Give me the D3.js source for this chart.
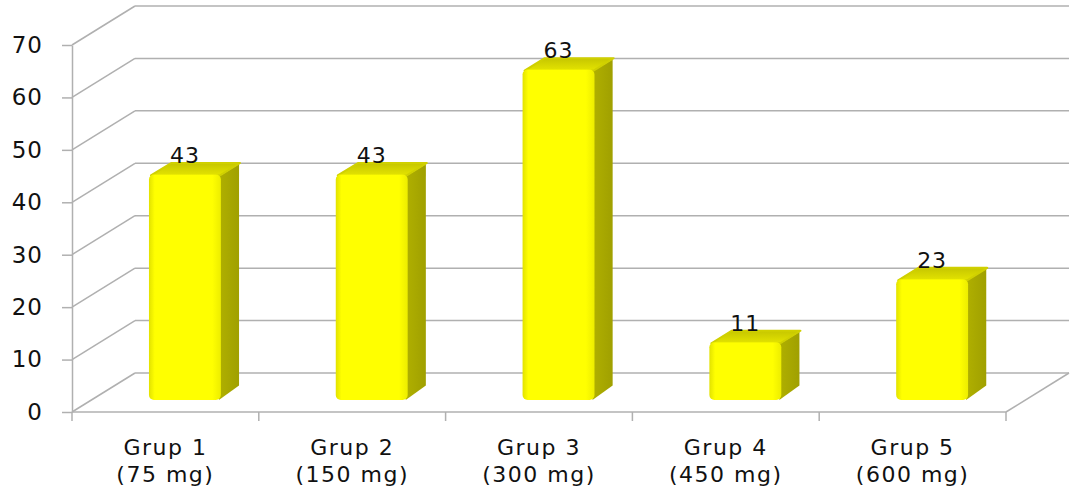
<!DOCTYPE html>
<html>
<head>
<meta charset="utf-8">
<script src="https://cdn.jsdelivr.net/npm/d3@7"></script>
<style>
  html, body { margin: 0; padding: 0; background: #fff; }
  text { font-family: "DejaVu Sans", Verdana, sans-serif; fill: #111; }
</style>
</head>
<body>
<div id="chart"></div>
<script>
// Chart data
const groupNames = ['Grup 1', 'Grup 2', 'Grup 3', 'Grup 4', 'Grup 5'];
const doseLabels = ['(75 mg)', '(150 mg)', '(300 mg)', '(450 mg)', '(600 mg)'];
const values = [43, 43, 63, 11, 23];
const yTicks = [0, 10, 20, 30, 40, 50, 60, 70];

//////////////////////////////////////////////////////////////////////
// Layout
//////////////////////////////////////////////////////////////////////
const W = 1072, H = 503;
const plot = {left: 72, right: 1006, top: 45, bottom: 412};
const depth = {dx: 63, dy: -39};        // oblique offset of the back wall
const barDepth = {front: 0.31, back: 0.63};  // bar position within the depth
const gridColor = '#b0b0b0';

const svg = d3.select('#chart')
    .append('svg')
    .attr('width', W)
    .attr('height', H);

const x = d3.scaleBand()
    .domain(groupNames)
    .range([plot.left, plot.right])
    .padding(0);

const y = d3.scaleLinear()
    .domain([0, 70])
    .range([plot.bottom, plot.top]);

// offset for a point at depth z (0 = front, 1 = back)
function _off(z) {
    return {x: depth.dx * z, y: depth.dy * z};
}

//////////////////////////////////////////////////////////////////////
// Walls: back wall gridlines, side wall diagonals, floor
//////////////////////////////////////////////////////////////////////
const back = _off(1);
const walls = svg.append('g')
    .attr('stroke', gridColor)
    .attr('stroke-width', 1.5)
    .attr('fill', 'none');

walls.selectAll('.grid')
    .data(yTicks)
    .enter()
    .append('line')
    .attr('class', 'grid')
    .attr('x1', plot.left + back.x)
    .attr('x2', plot.right + back.x)
    .attr('y1', d => y(d) + back.y)
    .attr('y2', d => y(d) + back.y);

walls.selectAll('.side')
    .data(yTicks)
    .enter()
    .append('line')
    .attr('class', 'side')
    .attr('x1', plot.left)
    .attr('x2', plot.left + back.x)
    .attr('y1', d => y(d))
    .attr('y2', d => y(d) + back.y);

// floor right edge
walls.append('line')
    .attr('x1', plot.right)
    .attr('x2', plot.right + back.x)
    .attr('y1', y(0))
    .attr('y2', y(0) + back.y);

//////////////////////////////////////////////////////////////////////
// Gradients for the bar faces
//////////////////////////////////////////////////////////////////////
const defs = svg.append('defs');
const frontGrad = defs.append('linearGradient')
    .attr('id', 'front-grad')
    .attr('x1', '0').attr('x2', '1').attr('y1', '0').attr('y2', '0');
[[0, '#e2e200'], [0.08, '#ffff00'], [0.88, '#ffff00'], [1, '#eded00']]
    .forEach(s => frontGrad.append('stop').attr('offset', s[0]).attr('stop-color', s[1]));

const topGrad = defs.append('linearGradient')
    .attr('id', 'top-grad')
    .attr('x1', '0').attr('x2', '0').attr('y1', '1').attr('y2', '0');
[[0, '#e4e400'], [1, '#c6c600']]
    .forEach(s => topGrad.append('stop').attr('offset', s[0]).attr('stop-color', s[1]));

const sideGrad = defs.append('linearGradient')
    .attr('id', 'side-grad')
    .attr('x1', '0').attr('x2', '1').attr('y1', '0').attr('y2', '0');
[[0, '#b0b000'], [1, '#a0a000']]
    .forEach(s => sideGrad.append('stop').attr('offset', s[0]).attr('stop-color', s[1]));

//////////////////////////////////////////////////////////////////////
// Bars
//////////////////////////////////////////////////////////////////////
const barW = x.bandwidth() * 0.385;
const fOff = _off(barDepth.front);
const bOff = _off(barDepth.back);
const dX = bOff.x - fOff.x, dY = bOff.y - fOff.y;

const bars = svg.append('g')
    .selectAll('.bar')
    .data(groupNames.map((g, i) => ({name: g, value: values[i]})))
    .enter()
    .append('g')
    .attr('class', 'bar');

function _x0(d) { return x(d.name) + x.bandwidth() / 2 - barW / 2 + fOff.x; }
function _yTop(d) { return y(d.value) + fOff.y; }
function _yBot() { return y(0) + fOff.y; }

// side face
bars.append('path')
    .attr('fill', 'url(#side-grad)')
    .attr('d', d => {
        const x1 = _x0(d) + barW - 2, yt = _yTop(d), yb = _yBot();
        return `M${x1},${yt + 2} L${x1 + dX},${yt + dY + 2} L${x1 + dX},${yb + dY - 2} L${x1},${yb} Z`;
    });

// top face
bars.append('path')
    .attr('fill', 'url(#top-grad)')
    .attr('stroke', '#d0d000')
    .attr('stroke-width', 2)
    .attr('stroke-linejoin', 'round')
    .attr('d', d => {
        const x0 = _x0(d), x1 = x0 + barW, yt = _yTop(d);
        return `M${x0 + 2},${yt + 1} L${x1 - 1},${yt + 1} L${x1 + dX - 1},${yt + dY + 1} L${x0 + dX + 2},${yt + dY + 1} Z`;
    });

// front face
bars.append('rect')
    .attr('x', d => _x0(d))
    .attr('y', d => _yTop(d))
    .attr('width', barW)
    .attr('height', d => _yBot() - _yTop(d))
    .attr('rx', 5)
    .attr('fill', 'url(#front-grad)');

// value labels
bars.append('text')
    .attr('x', d => _x0(d) + barW / 2)
    .attr('y', d => y(d.value) + bOff.y + 1)
    .attr('text-anchor', 'middle')
    .style('font-size', '22px')
    .style('letter-spacing', '1px')
    .text(d => d.value);

//////////////////////////////////////////////////////////////////////
// Axes
//////////////////////////////////////////////////////////////////////
const yAxis = svg.append('g')
    .attr('transform', `translate(${plot.left},0)`)
    .call(d3.axisLeft(y)
        .tickValues(yTicks)
        .tickSize(10)
        .tickSizeOuter(0)
        .tickPadding(19));
yAxis.selectAll('path, line').attr('stroke', gridColor).attr('stroke-width', 1.5);
yAxis.selectAll('text')
    .style('font-size', '23px')
    .style('letter-spacing', '1px')
    .attr('fill', '#111');

const xAxis = svg.append('g');
xAxis.append('line')
    .attr('x1', plot.left)
    .attr('x2', plot.right)
    .attr('y1', y(0))
    .attr('y2', y(0))
    .attr('stroke', gridColor)
    .attr('stroke-width', 1.5);

const edges = groupNames.map(g => x(g)).concat([plot.right]);
xAxis.selectAll('.xtick')
    .data(edges)
    .enter()
    .append('line')
    .attr('class', 'xtick')
    .attr('x1', d => d)
    .attr('x2', d => d)
    .attr('y1', y(0))
    .attr('y2', y(0) + 9)
    .attr('stroke', gridColor)
    .attr('stroke-width', 1.5);

const catLabels = xAxis.selectAll('.xlabel')
    .data(groupNames)
    .enter()
    .append('text')
    .attr('class', 'xlabel')
    .attr('text-anchor', 'middle')
    .style('font-size', '22px')
    .style('letter-spacing', '1.5px');

catLabels.append('tspan')
    .attr('x', d => x(d) + x.bandwidth() / 2)
    .attr('y', 455)
    .text(d => d);

catLabels.append('tspan')
    .attr('x', d => x(d) + x.bandwidth() / 2)
    .attr('y', 482)
    .text((d, i) => doseLabels[i]);
</script>
</body>
</html>
